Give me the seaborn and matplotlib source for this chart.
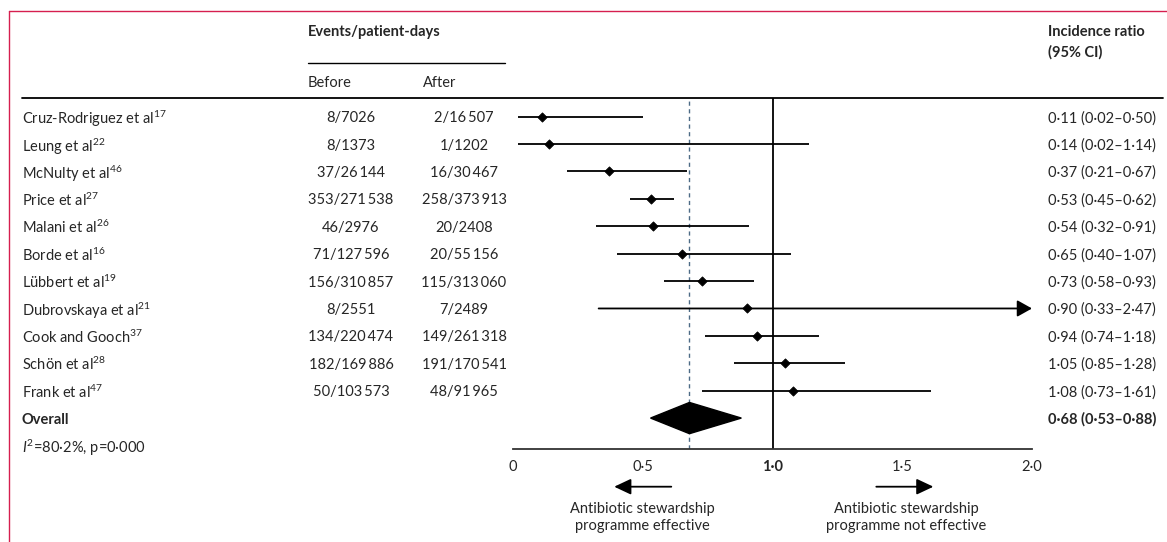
import numpy as np
import pandas as pd
import seaborn as sns
import matplotlib.pyplot as plt
import matplotlib.transforms as mtransforms
from matplotlib.lines import Line2D
from matplotlib.patches import Polygon

# data
studies = ["Cruz-Rodriguez et al", "Leung et al", "McNulty et al", "Price et al",
           "Malani et al", "Borde et al", "Lübbert et al", "Dubrovskaya et al",
           "Cook and Gooch", "Schön et al", "Frank et al"]
refs = ["17", "22", "46", "27", "26", "16", "19", "21", "37", "28", "47"]
before_events = [8, 8, 37, 353, 46, 71, 156, 8, 134, 182, 50]
before_days = [7026, 1373, 26144, 271538, 2976, 127596, 310857, 2551, 220474, 169886, 103573]
after_events = [2, 1, 16, 258, 20, 20, 115, 7, 149, 191, 48]
after_days = [16507, 1202, 30467, 373913, 2408, 55156, 313060, 2489, 261318, 170541, 91965]
ratio = [0.11, 0.14, 0.37, 0.53, 0.54, 0.65, 0.73, 0.90, 0.94, 1.05, 1.08]
ci_low = [0.02, 0.02, 0.21, 0.45, 0.32, 0.40, 0.58, 0.33, 0.74, 0.85, 0.73]
ci_high = [0.50, 1.14, 0.67, 0.62, 0.91, 1.07, 0.93, 2.47, 1.18, 1.28, 1.61]
overall = 0.68
overall_low = 0.53
overall_high = 0.88
heterogeneity = "=80·2%, p=0·000"
xticks = [0, 0.5, 1.0, 1.5, 2.0]
xticklabels = ["0", "0·5", "1·0", "1·5", "2·0"]

W, H = 1167, 542
XMAX = 2.0


def fx(px):
    return px / W


def fy(py):
    return 1 - py / H


def fmt_days(n):
    if n >= 10000:
        return "{:,}".format(n).replace(",", "\u2009")
    return str(n)


def fmt_ci(r, lo, hi):
    return "{:.2f} ({:.2f}–{:.2f})".format(r, lo, hi).replace(".", "·")


sns.set_theme(style="white")
plt.rcParams['font.family'] = ['Lato', 'DejaVu Sans']
plt.rcParams['mathtext.fontset'] = 'custom'
plt.rcParams['mathtext.rm'] = 'Lato'
plt.rcParams['mathtext.it'] = 'Lato:italic'
plt.rcParams['mathtext.bf'] = 'Lato:bold'

FS = 10.5
fig = plt.figure(figsize=(W / 100, H / 100), dpi=100)
fig.patch.set_facecolor("white")

# forest axes: x=0 at 513px, x=2 at 1032px; rows: 116.7px + 27.4px/row
ax = fig.add_axes([fx(513), fy(449.3), fx(1032) - fx(513), fy(97.5) - fy(449.3)])
ax.set_xlim(0, XMAX)
ax.set_ylim(12.14, -0.70)

df = pd.DataFrame({"study": studies, "ratio": ratio, "lo": ci_low, "hi": ci_high})
df["row"] = np.arange(len(df))

# reference lines
ax.axvline(1.0, color="black", lw=1.3, zorder=1)
ax.axvline(overall, color="#4d6b86", lw=1.0, dashes=(3, 2.5), zorder=1)

# CI lines
inside = df[df["hi"] <= XMAX]
ax.hlines(inside["row"], inside["lo"], inside["hi"], color="black", lw=1.3, zorder=2)
for _, r in df[df["hi"] > XMAX].iterrows():
    ax.annotate("", xy=(XMAX, r["row"]), xytext=(r["lo"], r["row"]),
                arrowprops=dict(arrowstyle="-|>,head_length=0.75,head_width=0.42",
                                color="black", lw=1.3, shrinkA=0, shrinkB=0),
                annotation_clip=False, zorder=2)

sns.scatterplot(data=df, x="ratio", y="row", marker="D", s=22, color="black",
                edgecolor="black", linewidth=0.6, ax=ax, legend=False, zorder=3)

# overall diamond
orow = len(studies)
h = 0.57
ax.add_patch(Polygon([(overall_low, orow), (overall, orow - h), (overall_high, orow), (overall, orow + h)],
                     closed=True, color="black", zorder=3))

# axis styling
for s in ["left", "top", "right"]:
    ax.spines[s].set_visible(False)
ax.spines["bottom"].set_color("#333333")
ax.spines["bottom"].set_linewidth(1.3)
ax.set_yticks([])
ax.set_xticks(xticks)
ax.set_xticklabels(xticklabels, fontsize=FS)
ax.tick_params(axis="x", direction="out", length=5, width=1.3, color="#333333", pad=3)
ax.get_xticklabels()[2].set_fontweight("bold")
ax.set_xlabel("")
ax.set_ylabel("")

# row texts
trans = mtransforms.blended_transform_factory(fig.transFigure, ax.transData)
VA = "center_baseline"
for i in range(len(studies)):
    ax.text(fx(22), i, studies[i] + "$^{" + refs[i] + "}$", transform=trans,
            ha="left", va=VA, fontsize=FS)
    ax.text(fx(351), i, "{}/{}".format(before_events[i], fmt_days(before_days[i])),
            transform=trans, ha="center", va=VA, fontsize=FS)
    ax.text(fx(464), i, "{}/{}".format(after_events[i], fmt_days(after_days[i])),
            transform=trans, ha="center", va=VA, fontsize=FS)
    ax.text(fx(1048), i, fmt_ci(ratio[i], ci_low[i], ci_high[i]), transform=trans,
            ha="left", va=VA, fontsize=FS)
ax.text(fx(22), orow, "Overall", transform=trans, ha="left", va=VA,
        fontsize=FS, fontweight="bold")
ax.text(fx(1048), orow, fmt_ci(overall, overall_low, overall_high), transform=trans,
        ha="left", va=VA, fontsize=FS, fontweight="bold")
ax.text(fx(22), orow + 1, r"$\mathit{I}^{2}$" + heterogeneity, transform=trans,
        ha="left", va=VA, fontsize=FS)

# header
fig.text(fx(308), fy(32), "Events/patient-days", ha="left", va="center", fontsize=FS, fontweight="bold")
fig.text(fx(308), fy(83), "Before", ha="left", va="center", fontsize=FS)
fig.text(fx(423), fy(83), "After", ha="left", va="center", fontsize=FS)
fig.text(fx(1048), fy(32), "Incidence ratio", ha="left", va="center", fontsize=FS, fontweight="bold")
fig.text(fx(1048), fy(52), "(95% CI)", ha="left", va="center", fontsize=FS, fontweight="bold")
fig.add_artist(Line2D([fx(308), fx(505)], [fy(62.7), fy(62.7)], color="black", lw=1.0))
fig.add_artist(Line2D([fx(21.7), fx(1163)], [fy(97.5), fy(97.5)], color="black", lw=1.3))

# red frame (top and left)
fig.add_artist(Line2D([fx(9.3), 1], [fy(10.7), fy(10.7)], color="#d61f4f", lw=1.0))
fig.add_artist(Line2D([fx(9.3), fx(9.3)], [fy(10.7), 0], color="#d61f4f", lw=1.0))

# direction arrows below the axis
btrans = mtransforms.blended_transform_factory(ax.transData, fig.transFigure)
arrow_kw = dict(arrowstyle="-|>,head_length=0.85,head_width=0.4", color="black",
                lw=1.3, shrinkA=0, shrinkB=0)
ax.annotate("", xy=(0.39, fy(486.7)), xytext=(0.61, fy(486.7)), xycoords=btrans,
            textcoords=btrans, arrowprops=arrow_kw, annotation_clip=False)
ax.annotate("", xy=(1.62, fy(486.7)), xytext=(1.40, fy(486.7)), xycoords=btrans,
            textcoords=btrans, arrowprops=arrow_kw, annotation_clip=False)
ax.text(0.5, fy(517.5), "Antibiotic stewardship\nprogramme effective", transform=btrans,
        ha="center", va="center", fontsize=FS, linespacing=1.25)
ax.text(1.515, fy(517.5), "Antibiotic stewardship\nprogramme not effective", transform=btrans,
        ha="center", va="center", fontsize=FS, linespacing=1.25)

fig.savefig("out.png", dpi=100, facecolor="white")
